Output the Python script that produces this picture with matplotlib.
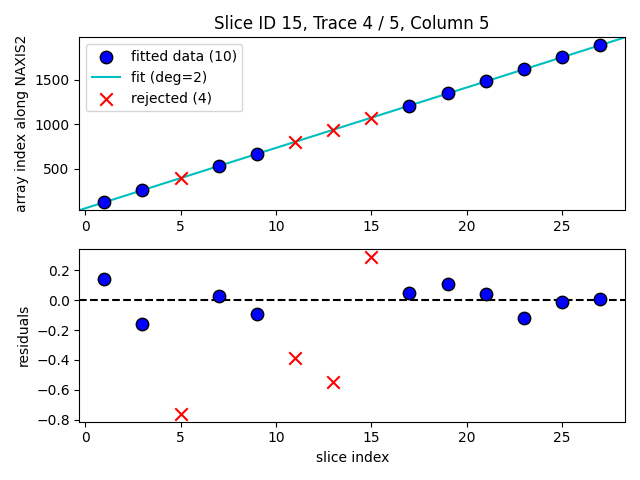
import numpy as np
import matplotlib.pyplot as plt

fit_x = [1, 3, 7, 9, 17, 19, 21, 23, 25, 27]
fit_res = [0.14, -0.16, 0.03, -0.09, 0.05, 0.11, 0.04, -0.12, -0.01, 0.01]
rej_x = [5, 11, 13, 15]
rej_res = [-0.76, -0.39, -0.55, 0.29]
fit_base = [122, 258, 530, 666, 1211, 1347, 1483, 1619, 1755, 1891]
rej_base = [394, 802, 938, 1075]

fit_y = np.array(fit_base) + np.array(fit_res)
rej_y = np.array(rej_base) + np.array(rej_res)
coef = np.polyfit(fit_x, fit_y, 2)

fig, (ax1, ax2) = plt.subplots(2, 1, figsize=(6.4, 4.8))
xl = (-0.3, 28.3)
xx = np.linspace(xl[0], xl[1], 200)
yy = np.polyval(coef, xx)
ax1.scatter(fit_x, fit_y, s=80, c="blue", edgecolors="black", label="fitted data (10)", zorder=3)
ax1.plot(xx, yy, color="c", label="fit (deg=2)")
ax1.scatter(rej_x, rej_y, s=80, c="red", marker="x", label="rejected (4)", zorder=3)
ax1.set_xlim(xl)
ax1.set_ylim(yy.min(), yy.max())
ax1.set_ylabel("array index along NAXIS2")
ax1.set_title("Slice ID 15, Trace 4 / 5, Column 5")
ax1.legend(loc="upper left")

ax2.scatter(fit_x, fit_res, s=80, c="blue", edgecolors="black", zorder=3)
ax2.scatter(rej_x, rej_res, s=80, c="red", marker="x", zorder=3)
ax2.axhline(0, color="black", linestyle="--")
ax2.set_xlim(xl)
ax2.set_xlabel("slice index")
ax2.set_ylabel("residuals")
fig.tight_layout()
fig.savefig("out.png", dpi=100)
